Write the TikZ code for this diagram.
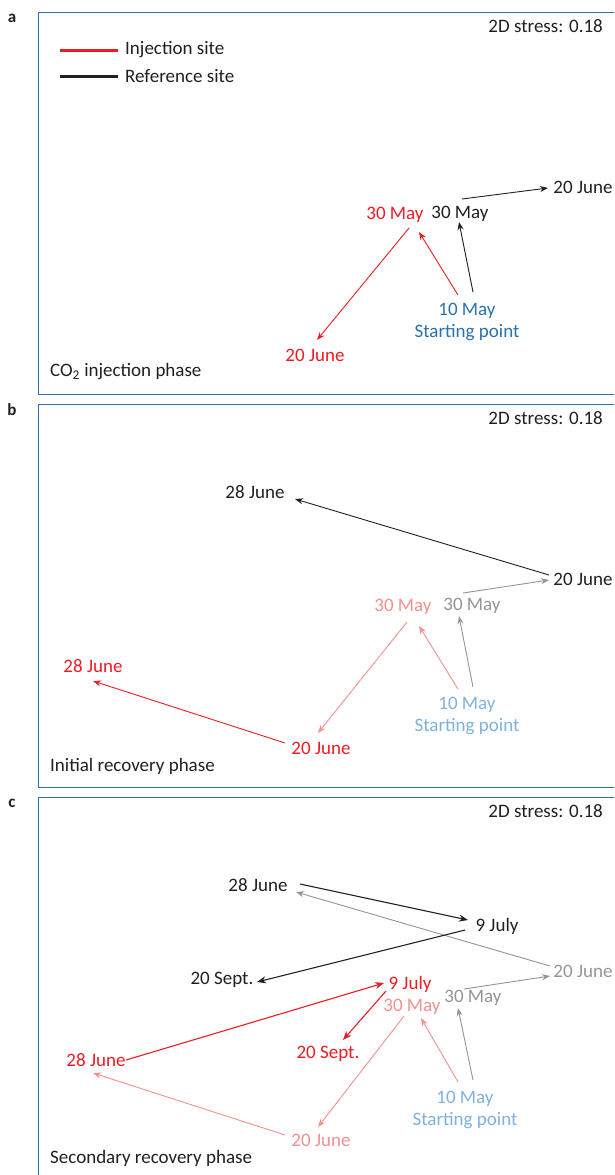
\documentclass[tikz,border=0pt]{standalone}
\usepackage{fontspec}
\setmainfont{Carlito}
\usetikzlibrary{arrows.meta,calc}
\definecolor{cred}{HTML}{ED1C24}
\definecolor{cpink}{HTML}{F29290}
\definecolor{cgray}{HTML}{939598}
\definecolor{cblk}{HTML}{231F20}
\definecolor{cblue}{HTML}{2A72AE}
\definecolor{clblue}{HTML}{7FB2DD}
\definecolor{cbox}{HTML}{2B73B4}
\tikzset{
  lbl/.style={inner sep=0pt, font=\fontsize{19}{22}\selectfont},
  panellbl/.style={inner sep=0pt, font=\fontsize{17}{18}\selectfont\bfseries, text=cblk},
  panel/.style={draw=cbox, line width=0.8pt},
  arr/.style={line width=0.9pt, -{Stealth[length=8pt,width=6pt]}},
  arrb/.style={line width=1.1pt, -{Stealth[length=9pt,width=7pt]}},
  legline/.style={line width=3pt}
}
\begin{document}
\begin{tikzpicture}[x=1pt,y=-1pt]
\clip (0,0) rectangle (614,1175);
\fill[white] (0,0) rectangle (614,1175);
% ---------- panel a ----------
\node[panellbl] (la) at (12,18) {a};
\draw[panel] (38,12) rectangle (640,394);
\node[lbl, anchor=east, text=cblk] (sa) at (603,26) {2D stress: 0.18};
\node[lbl, anchor=west, text=cblk] (legI) at (125,50) {Injection site};
\node[lbl, anchor=west, text=cblk] (legR) at (125,76) {Reference site};
\coordinate (legIs) at (60,50);
\coordinate (legRs) at (60,76);
\draw[legline, cred] (legIs) -- ([xshift=-7pt]legI.west);
\draw[legline, cblk] (legRs) -- ([xshift=-7pt]legR.west);
\node[lbl, anchor=west, text=cblk] (pa) at (50,372) {CO\textsubscript{2} injection phase};

\node[lbl, text=cblk] (aJ20) at (583,187) {20 June};
\node[lbl, text=cblk] (aR30) at (460,214) {30 May};
\node[lbl, text=cred] (aI30) at (395,215) {30 May};
\node[lbl, text=cblue, align=center] (aS) at (467,322) {10 May\\Starting point};
\node[lbl, text=cred] (aI20) at (315,355) {20 June};

\draw[arr, cblk] ($(aR30)+(2,-15)$) -- ($(aJ20)+(-35,1)$);
\draw[arr, cblk] ($(aS)+(6,-30)$) -- ($(aR30)+(-1,8)$);
\draw[arr, cred] ($(aS)+(-9,-27)$) -- ($(aI30)+(24,17)$);
\draw[arr, cred] ($(aI30)+(14,13)$) -- ($(aI20)+(2,-15)$);

% ---------- panel b ----------
\node[panellbl] (lb) at (12,410) {b};
\draw[panel] (38,404) rectangle (640,787);
\node[lbl, anchor=east, text=cblk] (sb) at (603,418) {2D stress: 0.18};
\node[lbl, anchor=west, text=cblk] (pb) at (50,766) {Initial recovery phase};

\node[lbl, text=cblk] (bR28) at (255,492) {28 June};
\node[lbl, text=cblk] (bR20) at (583,579) {20 June};
\node[lbl, text=cgray] (bR30) at (472,606) {30 May};
\node[lbl, text=cpink] (bI30) at (403,607) {30 May};
\node[lbl, text=clblue, align=center] (bS) at (467,716) {10 May\\Starting point};
\node[lbl, text=cred] (bI20) at (321,748) {20 June};
\node[lbl, text=cred] (bI28) at (93,666) {28 June};

\draw[arr, cblk] ($(bR20)+(-34,-4)$) -- ($(bR28)+(40,7)$);
\draw[arr, cgray] ($(bR30)+(-9,-13)$) -- ($(bR20)+(-34,1)$);
\draw[arr, cgray] ($(bS)+(6,-29)$) -- ($(bR30)+(-13,10)$);
\draw[arr, cpink] ($(bS)+(-9,-27)$) -- ($(bI30)+(16,19)$);
\draw[arr, cpink] ($(bI30)+(4,15)$) -- ($(bI20)+(-3,-15)$);
\draw[arr, cred] ($(bI20)+(-36,-5)$) -- ($(bI28)+(0,15)$);

% ---------- panel c ----------
\node[panellbl] (lc) at (12,803) {c};
\draw[panel] (38,797) rectangle (640,1190);
\node[lbl, anchor=east, text=cblk] (sc) at (603,811) {2D stress: 0.18};
\node[lbl, anchor=west, text=cblk] (pc) at (50,1158) {Secondary recovery phase};

\node[lbl, text=cblk] (cR28) at (258,885) {28 June};
\node[lbl, text=cblk] (cR9) at (497,926) {9 July};
\node[lbl, text=cblk] (cR20S) at (222,980) {20 Sept.};
\node[lbl, text=cgray] (cR20) at (583,971) {20 June};
\node[lbl, text=cgray] (cR30) at (473,998) {30 May};
\node[lbl, text=cred] (cI9) at (410,984) {9 July};
\node[lbl, text=cpink] (cI30) at (412,1007) {30 May};
\node[lbl, text=cred] (cI20S) at (328,1054) {20 Sept.};
\node[lbl, text=cred] (cI28) at (96,1060) {28 June};
\node[lbl, text=clblue, align=center] (cS) at (465,1110) {10 May\\Starting point};
\node[lbl, text=cpink] (cI20) at (321,1140) {20 June};

\draw[arr, cgray] ($(cR20)+(-33,-5)$) -- ($(cR28)+(38,7)$);
\draw[arrb, cblk] ($(cR28)+(42,-1)$) -- ($(cR9)+(-29,-6)$);
\draw[arrb, cblk] ($(cR9)+(-32,4)$) -- ($(cR20S)+(35,2)$);
\draw[arr, cgray] ($(cR30)+(-9,-9)$) -- ($(cR20)+(-33,5)$);
\draw[arr, cgray] ($(cS)+(8,-30)$) -- ($(cR30)+(-15,10)$);
\draw[arr, cpink] ($(cS)+(-7,-28)$) -- ($(cI30)+(9,11)$);
\draw[arr, cpink] ($(cI30)+(-8,9)$) -- ($(cI20)+(-3,-13)$);
\draw[arr, cpink] ($(cI20)+(-36,-5)$) -- ($(cI28)+(-3,13)$);
\draw[arrb, cred] ($(cI28)+(30,0)$) -- ($(cI9)+(-26,-1)$);
\draw[arrb, cred] ($(cI9)+(-24,7)$) -- ($(cI20S)+(15,-14)$);
\end{tikzpicture}
\end{document}
